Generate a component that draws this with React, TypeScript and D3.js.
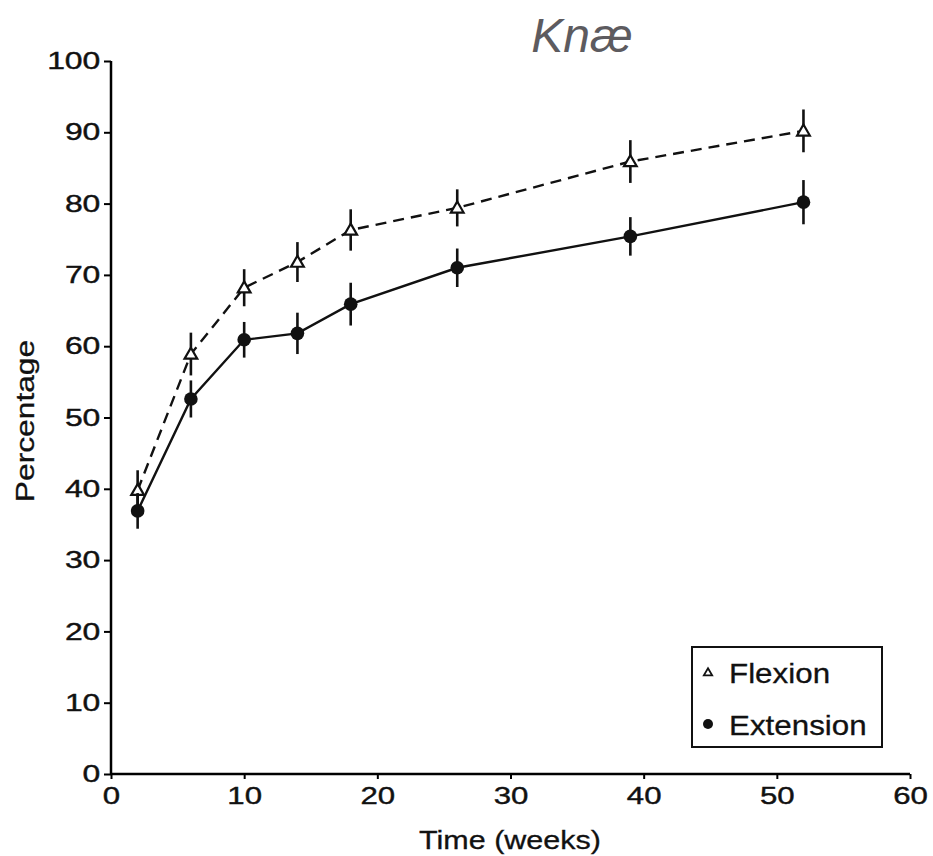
import React, { useEffect, useRef } from 'react';
import * as d3 from 'd3';

// weeks after surgery
const weeks = [2, 6, 10, 14, 18, 26, 39, 52];
const flexion = [39.8, 58.9, 68.2, 71.8, 76.3, 79.4, 85.9, 90.2];
const flexionErr = [2.8, 3.0, 2.6, 2.8, 2.9, 2.6, 3.0, 3.0];
const extension = [36.9, 52.6, 60.9, 61.8, 65.9, 71.0, 75.4, 80.2];
const extensionErr = [2.5, 2.6, 2.5, 2.9, 3.0, 2.7, 2.7, 3.1];
const xTicks = [0, 10, 20, 30, 40, 50, 60];
const yTicks = [0, 10, 20, 30, 40, 50, 60, 70, 80, 90, 100];
const legendItems = ['Flexion', 'Extension'];

const W = 933;
const H = 856;
const FONT = '"Liberation Sans", Arial, sans-serif';

export default function App() {
    const ref = useRef<SVGSVGElement>(null);

    useEffect(() => {
        const svg = d3.select(ref.current);
        svg.selectAll('*').remove();

        const x = d3.scaleLinear().domain([0, 60]).range([111, 910]);
        const y = d3.scaleLinear().domain([0, 100]).range([774, 61]);

        const series = [
            { name: 'Flexion', values: flexion, err: flexionErr, dash: '11,7' },
            { name: 'Extension', values: extension, err: extensionErr, dash: null },
        ];

        // title
        svg.append('text')
            .attr('x', 582)
            .attr('y', 52)
            .attr('text-anchor', 'middle')
            .style('font', `italic 48px ${FONT}`)
            .attr('fill', '#5d5b5f')
            .text('Knæ');

        // axes
        const xAxis = svg.append('g')
            .attr('transform', `translate(0,${y(0)})`)
            .call(d3.axisBottom(x).tickValues(xTicks).tickSize(5).tickPadding(8).tickSizeOuter(0));
        xAxis.select('.domain').attr('stroke-width', 2.5).attr('d', `M${x(0)},0H${x(60)}`);
        xAxis.selectAll('.tick line').attr('stroke-width', 2);
        xAxis.selectAll('.tick text')
            .style('font', `24px ${FONT}`)
            .attr('fill', '#111')
            .attr('stroke', '#111')
            .attr('stroke-width', 0.4)
            .attr('transform', 'scale(1.3,1)');

        const yAxis = svg.append('g')
            .attr('transform', `translate(${x(0)},0)`)
            .call(d3.axisLeft(y).tickValues(yTicks).tickSize(7).tickPadding(1).tickSizeOuter(0));
        yAxis.select('.domain').attr('stroke-width', 2.5).attr('d', `M0,${y(0)}V${y(100)}`);
        yAxis.selectAll('.tick line').attr('stroke-width', 2);
        yAxis.selectAll('.tick text')
            .style('font', `24px ${FONT}`)
            .attr('fill', '#111')
            .attr('stroke', '#111')
            .attr('stroke-width', 0.4)
            .attr('transform', 'scale(1.33,1)');

        // axis titles
        svg.append('text')
            .attr('transform', `translate(510,849) scale(1.22,1)`)
            .attr('text-anchor', 'middle')
            .style('font', `25px ${FONT}`)
            .attr('fill', '#111')
            .attr('stroke', '#111')
            .attr('stroke-width', 0.3)
            .text('Time (weeks)');

        svg.append('text')
            .attr('transform', `translate(34,421) rotate(-90) scale(1.27,1)`)
            .attr('text-anchor', 'middle')
            .style('font', `25px ${FONT}`)
            .attr('fill', '#111')
            .attr('stroke', '#111')
            .attr('stroke-width', 0.3)
            .text('Percentage');

        const line = d3.line<number>()
            .x((d, i) => x(weeks[i]))
            .y((d) => y(d));

        const triangle = d3.symbol().type(d3.symbolTriangle).size(70);

        for (const s of series) {
            const g = svg.append('g');
            g.append('path')
                .attr('d', line(s.values))
                .attr('fill', 'none')
                .attr('stroke', '#111')
                .attr('stroke-width', 2.4)
                .attr('stroke-dasharray', s.dash);

            g.selectAll('line.err')
                .data(s.values)
                .join('line')
                .attr('class', 'err')
                .attr('x1', (d, i) => x(weeks[i]))
                .attr('x2', (d, i) => x(weeks[i]))
                .attr('y1', (d, i) => y(d - s.err[i]))
                .attr('y2', (d, i) => y(d + s.err[i]))
                .attr('stroke', '#111')
                .attr('stroke-width', 2.6);

            if (s.name === 'Flexion') {
                g.selectAll('path.mark')
                    .data(s.values)
                    .join('path')
                    .attr('class', 'mark')
                    .attr('d', triangle)
                    .attr('transform', (d, i) => `translate(${x(weeks[i])},${y(d) + 1})`)
                    .attr('fill', 'white')
                    .attr('stroke', '#111')
                    .attr('stroke-width', 2.2);
            } else {
                g.selectAll('circle.mark')
                    .data(s.values)
                    .join('circle')
                    .attr('class', 'mark')
                    .attr('cx', (d, i) => x(weeks[i]))
                    .attr('cy', (d) => y(d))
                    .attr('r', 6.8)
                    .attr('fill', '#111');
            }
        }

        // legend
        const legend = svg.append('g').attr('transform', 'translate(692,647)');
        legend.append('rect')
            .attr('width', 190)
            .attr('height', 100)
            .attr('fill', 'white')
            .attr('stroke', '#111')
            .attr('stroke-width', 2);

        const item = legend.selectAll('g.item')
            .data(legendItems)
            .join('g')
            .attr('class', 'item')
            .attr('transform', (d, i) => `translate(0,${25 + i * 52})`);

        item.filter((d) => d === 'Flexion')
            .append('path')
            .attr('d', d3.symbol().type(d3.symbolTriangle).size(30))
            .attr('transform', 'translate(16,1)')
            .attr('fill', 'white')
            .attr('stroke', '#111')
            .attr('stroke-width', 1.8);

        item.filter((d) => d === 'Extension')
            .append('circle')
            .attr('cx', 16)
            .attr('cy', 0)
            .attr('r', 5)
            .attr('fill', '#111');

        item.append('text')
            .attr('transform', 'translate(37,11) scale(1.12,1)')
            .style('font', `28px ${FONT}`)
            .attr('fill', '#111')
            .attr('stroke', '#111')
            .attr('stroke-width', 0.3)
            .text((d) => d);
    }, []);

    return (
        <svg
            ref={ref}
            width={W}
            height={H}
            style={{ position: 'absolute', left: 0, top: 0, background: 'white' }}
        />
    );
}
